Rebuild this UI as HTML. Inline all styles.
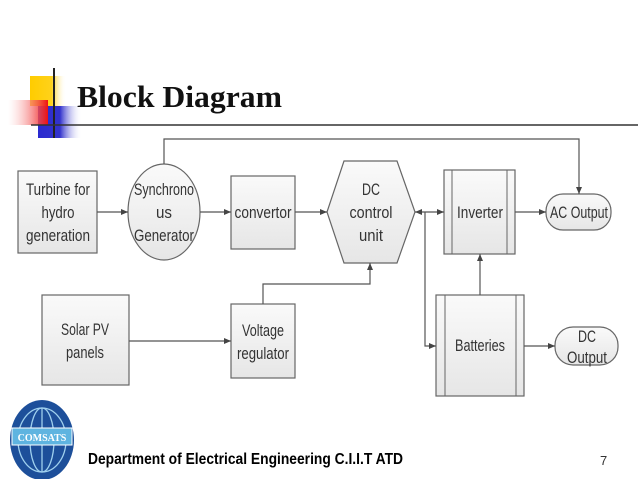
<!DOCTYPE html>
<html><head><meta charset="utf-8"><style>
body{margin:0;background:#fff;width:638px;height:479px;overflow:hidden;position:relative}
</style></head><body>
<svg width="638" height="479" viewBox="0 0 638 479" xmlns="http://www.w3.org/2000/svg" style="position:absolute;left:0;top:0">
<defs>
<linearGradient id="ye" x1="0" x2="1"><stop offset="0" stop-color="#ffcc00"/><stop offset="0.6" stop-color="#ffd21a"/><stop offset="1" stop-color="#fff" stop-opacity="0"/></linearGradient>
<linearGradient id="bl" x1="0" x2="1"><stop offset="0" stop-color="#2a2ad0"/><stop offset="0.5" stop-color="#3333cc"/><stop offset="1" stop-color="#fff" stop-opacity="0"/></linearGradient>
<linearGradient id="rd" x1="1" x2="0"><stop offset="0" stop-color="#ee1111"/><stop offset="1" stop-color="#fff" stop-opacity="0.3"/></linearGradient>
<linearGradient id="bx" x1="0" y1="0" x2="0" y2="1"><stop offset="0" stop-color="#fafafa"/><stop offset="1" stop-color="#e6e6e6"/></linearGradient>
<marker id="a" markerWidth="8" markerHeight="8" refX="7" refY="4" orient="auto" markerUnits="userSpaceOnUse"><path d="M0,1 L7,4 L0,7z" fill="#444"/></marker>
<marker id="s" markerWidth="8" markerHeight="8" refX="1" refY="4" orient="auto" markerUnits="userSpaceOnUse"><path d="M8,1 L1,4 L8,7z" fill="#444"/></marker>
</defs>
<rect x="30" y="76" width="36" height="30" fill="url(#ye)"/>
<rect x="38" y="106" width="44" height="32" fill="url(#bl)"/>
<rect x="8" y="100" width="40" height="25" fill="url(#rd)"/>
<line x1="54" y1="68" x2="54" y2="138" stroke="#222" stroke-width="2"/>
<line x1="31" y1="125" x2="638" y2="125" stroke="#333" stroke-width="1.5"/>
<text x="77" y="107" font-family="Liberation Serif" font-weight="bold" font-size="31" fill="#111" textLength="205" lengthAdjust="spacingAndGlyphs">Block Diagram</text>

<g stroke="#666" stroke-width="1.2" fill="url(#bx)">
<rect x="18" y="171" width="79" height="82"/>
<ellipse cx="164" cy="212" rx="36" ry="48"/>
<rect x="231" y="176" width="64" height="73"/>
<rect x="42" y="295" width="87" height="90"/>
<rect x="231" y="304" width="64" height="74"/>
<polygon points="344,161 397,161 415,212 397,263 344,263 327,212"/>
<rect x="444" y="170" width="71" height="84"/>
<rect x="546" y="194" width="65" height="36" rx="17"/>
<rect x="436" y="295" width="88" height="101"/>
<rect x="555" y="327" width="63" height="38" rx="18"/>
</g>
<g stroke="#666" stroke-width="1">
<line x1="452" y1="170" x2="452" y2="254"/><line x1="507" y1="170" x2="507" y2="254"/>
<line x1="445" y1="295" x2="445" y2="396"/><line x1="516" y1="295" x2="516" y2="396"/>
</g>
<g stroke="#555" stroke-width="1.2" fill="none">
<path d="M97,212 H128" marker-end="url(#a)"/>
<path d="M200,212 H231" marker-end="url(#a)"/>
<path d="M295,212 H327" marker-end="url(#a)"/>
<path d="M415,212 H444" marker-start="url(#s)" marker-end="url(#a)"/>
<path d="M425,212 V346 H436" marker-end="url(#a)"/>
<path d="M515,212 H546" marker-end="url(#a)"/>
<path d="M164,164 V139 H579 V194" marker-end="url(#a)"/>
<path d="M480,295 V254" marker-end="url(#a)"/>
<path d="M524,346 H555" marker-end="url(#a)"/>
<path d="M129,341 H231" marker-end="url(#a)"/>
<path d="M263,304 V284 H370 V263" marker-end="url(#a)"/>
</g>
<g font-family="Liberation Sans, sans-serif" font-size="17" fill="#333" text-anchor="middle">
<text x="58" y="195" textLength="64" lengthAdjust="spacingAndGlyphs">Turbine for</text><text x="58" y="218" textLength="33" lengthAdjust="spacingAndGlyphs">hydro</text><text x="58" y="241" textLength="64" lengthAdjust="spacingAndGlyphs">generation</text>
<text x="164" y="195" textLength="60" lengthAdjust="spacingAndGlyphs">Synchrono</text><text x="164" y="218" textLength="16" lengthAdjust="spacingAndGlyphs">us</text><text x="164" y="241" textLength="60" lengthAdjust="spacingAndGlyphs">Generator</text>
<text x="263" y="218" textLength="57" lengthAdjust="spacingAndGlyphs">convertor</text>
<text x="371" y="195" textLength="18" lengthAdjust="spacingAndGlyphs">DC</text><text x="371" y="218" textLength="43" lengthAdjust="spacingAndGlyphs">control</text><text x="371" y="241" textLength="24" lengthAdjust="spacingAndGlyphs">unit</text>
<text x="480" y="218" textLength="46" lengthAdjust="spacingAndGlyphs">Inverter</text>
<text x="579" y="218" textLength="58" lengthAdjust="spacingAndGlyphs">AC Output</text>
<text x="85" y="335" textLength="48" lengthAdjust="spacingAndGlyphs">Solar PV</text><text x="85" y="358" textLength="38" lengthAdjust="spacingAndGlyphs">panels</text>
<text x="263" y="336" textLength="42" lengthAdjust="spacingAndGlyphs">Voltage</text><text x="263" y="359" textLength="52" lengthAdjust="spacingAndGlyphs">regulator</text>
<text x="480" y="351" textLength="50" lengthAdjust="spacingAndGlyphs">Batteries</text>
<text x="587" y="342" textLength="18" lengthAdjust="spacingAndGlyphs">DC</text><text x="587" y="363" textLength="40" lengthAdjust="spacingAndGlyphs">Output</text>
</g>
<ellipse cx="42" cy="440" rx="32" ry="40" fill="#1d4f9a"/>
<g stroke="#9fd0ee" stroke-width="1.3" fill="none">
<ellipse cx="42" cy="440" rx="24" ry="32"/><ellipse cx="42" cy="440" rx="12" ry="32"/><line x1="42" y1="408" x2="42" y2="472"/>
</g>
<rect x="12" y="428" width="60" height="17" fill="#5fb4e0" stroke="#fff"/>
<text x="42" y="441" font-family="Liberation Serif" font-weight="bold" font-size="10" fill="#fff" text-anchor="middle">COMSATS</text>
<text x="88" y="464" font-family="Liberation Sans" font-weight="bold" font-size="16" fill="#000" textLength="315" lengthAdjust="spacingAndGlyphs">Department of Electrical Engineering C.I.I.T  ATD</text>
<text x="600" y="465" font-family="Liberation Sans" font-size="13" fill="#333">7</text>
</svg>
</body></html>
